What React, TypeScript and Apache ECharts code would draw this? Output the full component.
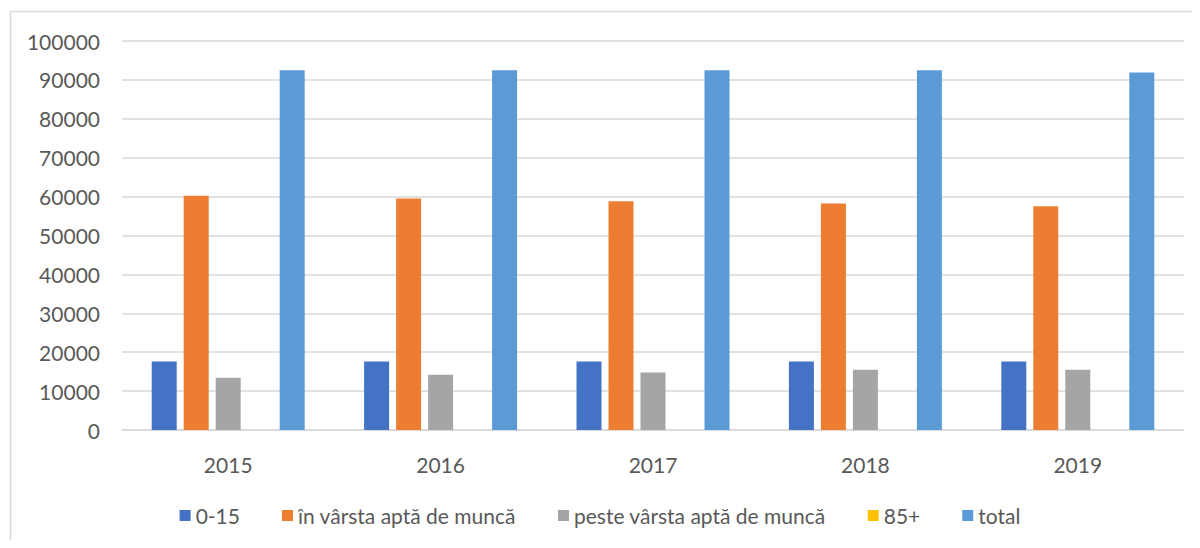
import React, { useEffect, useRef } from "react";
import * as echarts from "echarts";

const years = ["2015", "2016", "2017", "2018", "2019"];
const seriesNames = ["0-15", "în vârsta aptă de muncă", "peste vârsta aptă de muncă", "85+", "total"];
const age0to15 = [17600, 17600, 17600, 17600, 17600];
const workingAge = [60200, 59500, 58800, 58200, 57500];
const overWorkingAge = [13400, 14200, 14800, 15500, 15500];
const age85plus = [0, 0, 0, 0, 0];
const total = [92500, 92500, 92500, 92500, 91900];
const colors = ["#4472C4", "#ED7D31", "#A5A5A5", "#FFC000", "#5B9BD5"];

export default function App() {
  const ref = useRef<HTMLDivElement>(null);
  useEffect(() => {
    if (!ref.current) return;
    const chart = echarts.init(ref.current, undefined, { renderer: "svg" });
    const dataSets = [age0to15, workingAge, overWorkingAge, age85plus, total];
    chart.setOption({
      animation: false,
      textStyle: { fontFamily: "Lato, 'Liberation Sans', sans-serif" },
      graphic: [
        {
          type: "rect",
          shape: { x: 10.5, y: 11.5, width: 1200, height: 560 },
          style: { fill: "none", stroke: "#d9d9d9", lineWidth: 1.5 },
          silent: true,
        },
      ],
      grid: { left: 122, right: 16, top: 41, bottom: 118 },
      legend: {
        top: 500,
        left: "center",
        itemWidth: 11,
        itemHeight: 11,
        itemGap: 42,
        icon: "rect",
        textStyle: { fontSize: 21, color: "#595959", fontFamily: "Lato, sans-serif" },
        data: seriesNames,
      },
      xAxis: {
        type: "category",
        data: years,
        axisLine: { lineStyle: { color: "#d9d9d9", width: 1.5 } },
        axisTick: { show: false },
        axisLabel: { fontSize: 21, color: "#595959", margin: 24 },
      },
      yAxis: {
        type: "value",
        min: 0,
        max: 100000,
        interval: 10000,
        axisLine: { show: false },
        axisTick: { show: false },
        axisLabel: { fontSize: 21, color: "#595959", margin: 22, formatter: (v: number) => String(v) },
        splitLine: { lineStyle: { color: "#d9d9d9", width: 1.5 } },
      },
      series: seriesNames.map((name, i) => ({
        name,
        type: "bar",
        data: dataSets[i],
        barWidth: 25,
        barGap: "28%",
        itemStyle: { color: colors[i] },
      })),
    });
    return () => chart.dispose();
  }, []);
  return <div ref={ref} style={{ width: 1200, height: 548, margin: -8 }} />;
}
